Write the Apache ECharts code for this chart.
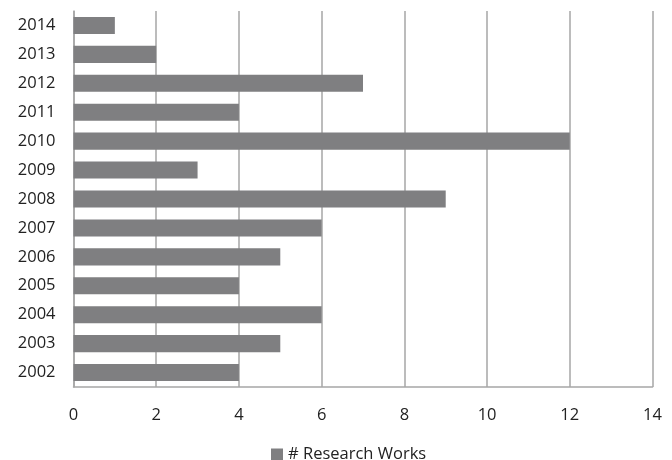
<!DOCTYPE html>
<html><head><meta charset="utf-8">
<script src="https://cdn.jsdelivr.net/npm/echarts@6/dist/echarts.min.js"></script>
<style>html,body{margin:0;padding:0;background:#fff}#c{width:672px;height:460px}</style>
</head><body><div id="c"></div>
<script>
const categories = ['2002','2003','2004','2005','2006','2007','2008','2009','2010','2011','2012','2013','2014'];
const researchWorks = [4,5,6,4,5,6,9,3,12,4,7,2,1];
const seriesName = '# Research Works';
const chart = echarts.init(document.getElementById('c'), null, {renderer:'canvas'});
const font = '"Open Sans", "Noto Sans", sans-serif';
chart.setOption({
  animation:false,
  grid:{left:73.5, right:19.5, top:11, bottom:73},
  legend:{top:446, left:271, itemWidth:12, itemHeight:12, itemGap:4, padding:0,
    icon:'rect', textStyle:{fontFamily:font, fontSize:16.5, color:'#222'}, data:[seriesName]},
  xAxis:{type:'value', min:0, max:14, interval:2,
    axisLine:{show:true, lineStyle:{color:'#a6a6a6', width:1.5}},
    axisTick:{show:false},
    splitLine:{show:true, lineStyle:{color:'#a6a6a6', width:1.5}},
    axisLabel:{fontFamily:font, fontSize:16.5, color:'#222', margin:20}},
  yAxis:{type:'category', data:categories,
    axisLine:{show:true, lineStyle:{color:'#a6a6a6', width:1.5}},
    axisTick:{show:false},
    axisLabel:{fontFamily:font, fontSize:16.5, color:'#222', margin:18}},
  series:[{name:seriesName, type:'bar', data:researchWorks, barCategoryGap:'41%',
    itemStyle:{color:'#7f7f81'}}]
});
</script></body></html>
